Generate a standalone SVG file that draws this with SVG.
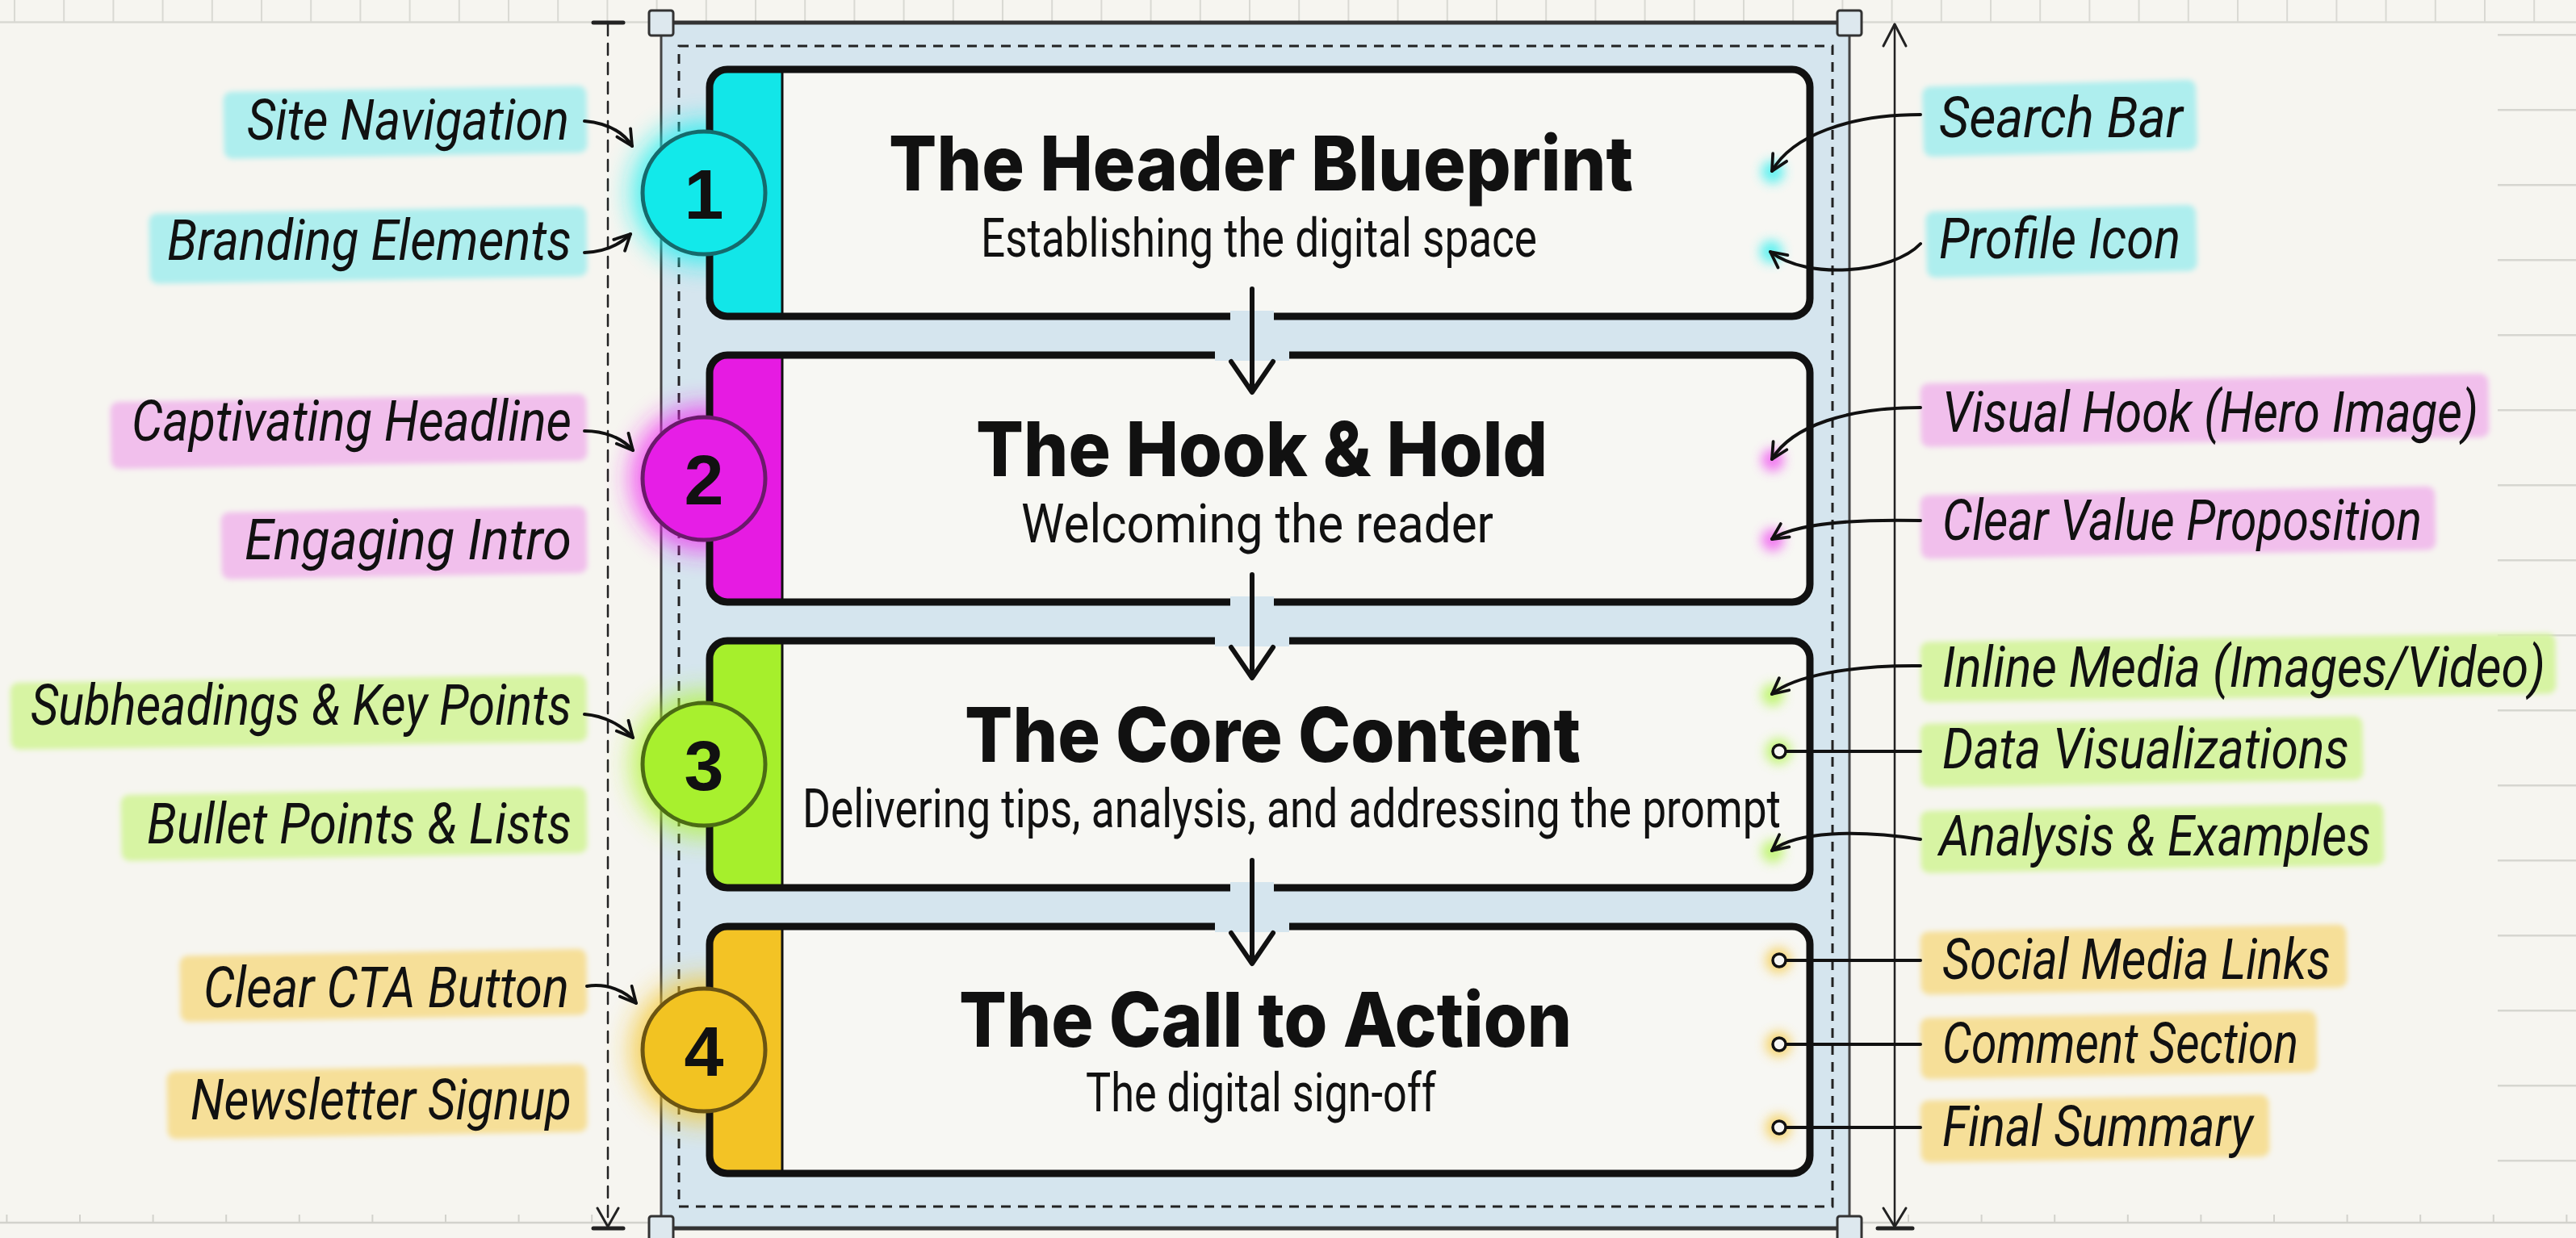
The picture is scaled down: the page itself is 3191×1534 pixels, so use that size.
<svg xmlns="http://www.w3.org/2000/svg" width="3191" height="1534" viewBox="0 0 3191 1534">
<style>
.title{font-family:Inter,"Liberation Sans",sans-serif;font-weight:800;font-size:94px;fill:#111}
.sub{font-family:Roboto,"Liberation Sans",sans-serif;font-weight:400;font-size:66px;fill:#111}
.num{font-family:"Liberation Sans",Arial,sans-serif;font-weight:700;font-size:88px;fill:#111;text-anchor:middle}
.lbl{font-family:"Liberation Sans Narrow",Roboto,"DejaVu Sans",sans-serif;font-style:italic;font-weight:400;font-size:70px;fill:#111}
.card{fill:#f7f7f3}
.border{fill:none;stroke:#111;stroke-width:9}
.sep{stroke:#111;stroke-width:3}
.conn{fill:none;stroke:#111;stroke-width:4;stroke-linecap:round}
.flow{fill:none;stroke:#111;stroke-width:6;stroke-linecap:round;stroke-linejoin:round}
.dot{fill:#f7f7f3;stroke:#111;stroke-width:3.5}
.band{filter:url(#soft)}
.handle{fill:#dde8ee;stroke:#333;stroke-width:3}
.gap{fill:#d5e5ee}
</style>
<defs>
<filter id="soft" x="-5%" y="-30%" width="110%" height="160%"><feGaussianBlur stdDeviation="3"/></filter>
<filter id="glow" x="-60%" y="-60%" width="220%" height="220%"><feGaussianBlur stdDeviation="16"/></filter>
<filter id="glowS" x="-100%" y="-100%" width="300%" height="300%"><feGaussianBlur stdDeviation="7"/></filter>
<marker id="ah" viewBox="0 0 24 24" refX="21" refY="12" markerWidth="26" markerHeight="26" orient="auto" markerUnits="userSpaceOnUse">
<path d="M3,3 L21,12 L3,21" fill="none" stroke="#111" stroke-width="3.5" stroke-linecap="round" stroke-linejoin="round"/>
</marker>
<pattern id="topTicks" x="17" y="0" width="61.2" height="27" patternUnits="userSpaceOnUse"><rect x="0" y="0" width="2" height="27" fill="#d9d9d3"/></pattern>
<pattern id="botTicks" x="98" y="1505" width="90.6" height="10" patternUnits="userSpaceOnUse"><rect x="0" y="0" width="2" height="10" fill="#d2d2cc"/></pattern>
<pattern id="rTicks" x="3094" y="42" width="97" height="93" patternUnits="userSpaceOnUse"><rect x="0" y="0" width="97" height="2.5" fill="#d6d6d0"/></pattern>
<clipPath id="c1"><rect x="879" y="86" width="1363" height="306" rx="22"/></clipPath>
<clipPath id="c2"><rect x="879" y="440" width="1363" height="306" rx="22"/></clipPath>
<clipPath id="c3"><rect x="879" y="794" width="1363" height="306" rx="22"/></clipPath>
<clipPath id="c4"><rect x="879" y="1148" width="1363" height="306" rx="22"/></clipPath>
</defs>

<!-- background & rulers -->
<rect width="3191" height="1534" fill="#f6f5f0"/>
<rect x="0" y="0" width="3191" height="27" fill="url(#topTicks)"/>
<line x1="0" y1="27.5" x2="3191" y2="27.5" stroke="#d9d9d3" stroke-width="2.5"/>
<rect x="3094" y="42" width="97" height="1400" fill="url(#rTicks)"/>
<rect x="0" y="1505" width="3191" height="10" fill="url(#botTicks)"/>
<line x1="0" y1="1515" x2="3191" y2="1515" stroke="#d2d2cc" stroke-width="2.5"/>

<!-- container -->
<g id="container">
<rect x="819" y="28" width="1472" height="1494" fill="#d5e5ee" stroke="#444" stroke-width="3"/>
<line x1="819" y1="28" x2="2291" y2="28" stroke="#333" stroke-width="5"/>
<line x1="819" y1="1522" x2="2291" y2="1522" stroke="#333" stroke-width="5"/>
<rect x="841" y="57" width="1429" height="1438" fill="none" stroke="#222" stroke-width="3" stroke-dasharray="12 9"/>
<rect class="handle" x="804" y="13" width="30" height="31" rx="3"/>
<rect class="handle" x="2276" y="13" width="30" height="31" rx="3"/>
<rect class="handle" x="804" y="1507" width="30" height="31" rx="3"/>
<rect class="handle" x="2276" y="1507" width="30" height="31" rx="3"/>
</g>

<!-- dimension lines -->
<g id="dimensions" fill="none" stroke="#222" stroke-linecap="round" stroke-linejoin="round">
<line x1="753" y1="30" x2="753" y2="1520" stroke-width="2.5" stroke-dasharray="14 10"/>
<line x1="735" y1="28" x2="772" y2="28" stroke-width="5"/>
<path d="M740,1497 L753,1520 L766,1497" stroke-width="3"/>
<line x1="735" y1="1522" x2="772" y2="1522" stroke-width="5"/>
<line x1="2347" y1="30" x2="2347" y2="1520" stroke-width="2.5"/>
<path d="M2333,57 L2347,30 L2361,57" stroke-width="3"/>
<path d="M2333,1497 L2347,1520 L2361,1497" stroke-width="3"/>
<line x1="2326" y1="1522" x2="2369" y2="1522" stroke-width="5"/>
</g>

<!-- glows -->
<g id="glows">
<circle cx="872" cy="239" r="90" fill="#19f0f0" opacity="0.75" filter="url(#glow)"/>
<circle cx="872" cy="593" r="90" fill="#f020f0" opacity="0.75" filter="url(#glow)"/>
<circle cx="872" cy="947" r="90" fill="#aef52a" opacity="0.75" filter="url(#glow)"/>
<circle cx="872" cy="1301" r="90" fill="#f5c420" opacity="0.75" filter="url(#glow)"/>
</g>

<!-- cards -->
<g id="card1">
<rect class="card" x="879" y="86" width="1363" height="306" rx="22"/>
<rect x="870" y="80" width="99" height="320" fill="#12e6e8" clip-path="url(#c1)"/>
<line class="sep" x1="969" y1="86" x2="969" y2="392"/>
<rect class="border" x="879" y="86" width="1363" height="306" rx="22"/>
<text class="title" x="1101" y="236" textLength="922" lengthAdjust="spacingAndGlyphs">The Header Blueprint</text>
<text class="sub" x="1215" y="318" textLength="689" lengthAdjust="spacingAndGlyphs">Establishing the digital space</text>
</g>
<g id="card2">
<rect class="card" x="879" y="440" width="1363" height="306" rx="22"/>
<rect x="870" y="434" width="99" height="320" fill="#e61be2" clip-path="url(#c2)"/>
<line class="sep" x1="969" y1="440" x2="969" y2="746"/>
<rect class="border" x="879" y="440" width="1363" height="306" rx="22"/>
<text class="title" x="1209" y="590" textLength="708" lengthAdjust="spacingAndGlyphs">The Hook &amp; Hold</text>
<text class="sub" x="1265" y="672" textLength="585" lengthAdjust="spacingAndGlyphs">Welcoming the reader</text>
</g>
<g id="card3">
<rect class="card" x="879" y="794" width="1363" height="306" rx="22"/>
<rect x="870" y="788" width="99" height="320" fill="#a6ef2c" clip-path="url(#c3)"/>
<line class="sep" x1="969" y1="794" x2="969" y2="1100"/>
<rect class="border" x="879" y="794" width="1363" height="306" rx="22"/>
<text class="title" x="1195" y="944" textLength="763" lengthAdjust="spacingAndGlyphs">The Core Content</text>
<text class="sub" x="994" y="1025" textLength="1212" lengthAdjust="spacingAndGlyphs">Delivering tips, analysis, and addressing the prompt</text>
</g>
<g id="card4">
<rect class="card" x="879" y="1148" width="1363" height="306" rx="22"/>
<rect x="870" y="1142" width="99" height="320" fill="#f3c325" clip-path="url(#c4)"/>
<line class="sep" x1="969" y1="1148" x2="969" y2="1454"/>
<rect class="border" x="879" y="1148" width="1363" height="306" rx="22"/>
<text class="title" x="1188" y="1297" textLength="759" lengthAdjust="spacingAndGlyphs">The Call to Action</text>
<text class="sub" x="1345" y="1377" textLength="434" lengthAdjust="spacingAndGlyphs">The digital sign-off</text>
</g>

<!-- badges -->
<g id="badge1"><circle cx="872" cy="239" r="76" fill="#12e9ea" stroke="#156a6c" stroke-width="5"/><text class="num" x="872" y="271">1</text></g>
<g id="badge2"><circle cx="872" cy="593" r="76" fill="#e61ee6" stroke="#6a1a6a" stroke-width="5"/><text class="num" x="872" y="625">2</text></g>
<g id="badge3"><circle cx="872" cy="947" r="76" fill="#a8f02e" stroke="#4b6b14" stroke-width="5"/><text class="num" x="872" y="979">3</text></g>
<g id="badge4"><circle cx="872" cy="1301" r="76" fill="#f2c322" stroke="#6b5412" stroke-width="5"/><text class="num" x="872" y="1333">4</text></g>

<!-- label highlight bands -->
<g id="bands">
<g fill="#aeeeee">
<rect class="band" x="277" y="110" width="450" height="83" rx="10" transform="rotate(-1 502 151)"/>
<rect class="band" x="185" y="260" width="542" height="87" rx="10" transform="rotate(-1 456 303)"/>
<rect class="band" x="2382" y="103" width="339" height="87" rx="10" transform="rotate(-1.5 2551 146)"/>
<rect class="band" x="2386" y="258" width="335" height="82" rx="10" transform="rotate(-1.5 2553 299)"/>
</g>
<g fill="#f1bfec">
<rect class="band" x="137" y="493" width="590" height="83" rx="10" transform="rotate(-1 432 534)"/>
<rect class="band" x="274" y="631" width="453" height="83" rx="10" transform="rotate(-1 500 672)"/>
<rect class="band" x="2379" y="469" width="704" height="79" rx="10" transform="rotate(-1 2731 508)"/>
<rect class="band" x="2379" y="608" width="638" height="79" rx="10" transform="rotate(-1 2698 647)"/>
</g>
<g fill="#d7f4a3">
<rect class="band" x="13" y="841" width="714" height="83" rx="10" transform="rotate(-0.8 370 882)"/>
<rect class="band" x="150" y="980" width="577" height="82" rx="10" transform="rotate(-1 438 1021)"/>
<rect class="band" x="2379" y="790" width="787" height="75" rx="10" transform="rotate(-0.8 2772 827)"/>
<rect class="band" x="2379" y="892" width="548" height="79" rx="10" transform="rotate(-1 2653 931)"/>
<rect class="band" x="2379" y="1000" width="574" height="77" rx="10" transform="rotate(-1 2666 1038)"/>
</g>
<g fill="#f6df98">
<rect class="band" x="223" y="1180" width="504" height="82" rx="10" transform="rotate(-1 475 1221)"/>
<rect class="band" x="207" y="1323" width="520" height="84" rx="10" transform="rotate(-1 467 1365)"/>
<rect class="band" x="2379" y="1150" width="528" height="78" rx="10" transform="rotate(-1 2643 1189)"/>
<rect class="band" x="2379" y="1257" width="491" height="76" rx="10" transform="rotate(-1 2624 1295)"/>
<rect class="band" x="2379" y="1360" width="432" height="77" rx="10" transform="rotate(-1 2595 1398)"/>
</g>
</g>

<!-- tip glows -->
<g id="tipglows" filter="url(#glowS)" opacity="0.8">
<circle cx="2196" cy="213" r="14" fill="#3df0f0"/>
<circle cx="2194" cy="312" r="14" fill="#3df0f0"/>
<circle cx="2196" cy="570" r="14" fill="#f05cf0"/>
<circle cx="2196" cy="669" r="14" fill="#f05cf0"/>
<circle cx="2196" cy="861" r="14" fill="#b6f55a"/>
<circle cx="2203" cy="931" r="16" fill="#b6f55a"/>
<circle cx="2196" cy="1055" r="14" fill="#b6f55a"/>
<circle cx="2203" cy="1190" r="16" fill="#f5cc50"/>
<circle cx="2203" cy="1294" r="16" fill="#f5cc50"/>
<circle cx="2203" cy="1397" r="16" fill="#f5cc50"/>
</g>

<!-- connectors -->
<g id="connectors">
<rect class="gap" x="1524" y="385" width="54" height="14"/>
<rect class="gap" x="1505" y="433" width="92" height="14"/>
<rect class="gap" x="1524" y="739" width="54" height="14"/>
<rect class="gap" x="1505" y="787" width="92" height="14"/>
<rect class="gap" x="1524" y="1093" width="54" height="14"/>
<rect class="gap" x="1505" y="1141" width="92" height="14"/>
<path class="flow" d="M1551,358 V484 M1525,448 L1551,486 L1577,448"/>
<path class="flow" d="M1551,712 V838 M1525,802 L1551,840 L1577,802"/>
<path class="flow" d="M1551,1066 V1192 M1525,1156 L1551,1194 L1577,1156"/>

<path class="conn" marker-end="url(#ah)" d="M724,150 C746,152 770,160 783,181"/>
<path class="conn" marker-end="url(#ah)" d="M724,313 C745,312 766,305 781,290"/>
<path class="conn" marker-end="url(#ah)" d="M724,534 C748,534 770,542 784,558"/>
<path class="conn" marker-end="url(#ah)" d="M724,885 C748,887 770,898 784,914"/>
<path class="conn" marker-end="url(#ah)" d="M727,1222 C752,1218 775,1228 788,1243"/>

<path class="conn" marker-end="url(#ah)" d="M2379,142 C2290,142 2220,168 2195,212"/>
<path class="conn" marker-end="url(#ah)" d="M2379,302 C2345,338 2240,348 2193,312"/>
<path class="conn" marker-end="url(#ah)" d="M2379,505 C2290,505 2220,527 2195,569"/>
<path class="conn" marker-end="url(#ah)" d="M2379,645 C2290,643 2222,650 2195,668"/>
<path class="conn" marker-end="url(#ah)" d="M2379,825 C2290,824 2222,838 2195,860"/>
<path class="conn" marker-end="url(#ah)" d="M2379,1040 C2300,1028 2225,1030 2195,1054"/>

<path class="conn" d="M2379,931 H2212"/>
<circle class="dot" cx="2204" cy="931" r="8"/>
<path class="conn" d="M2379,1190 H2212"/>
<circle class="dot" cx="2204" cy="1190" r="8"/>
<path class="conn" d="M2379,1294 H2212"/>
<circle class="dot" cx="2204" cy="1294" r="8"/>
<path class="conn" d="M2379,1397 H2212"/>
<circle class="dot" cx="2204" cy="1397" r="8"/>
</g>

<!-- labels -->
<g id="labels-left">
<text class="lbl" x="306" y="173" textLength="399" lengthAdjust="spacingAndGlyphs">Site Navigation</text>
<text class="lbl" x="207" y="322" textLength="501" lengthAdjust="spacingAndGlyphs">Branding Elements</text>
<text class="lbl" x="163" y="546" textLength="545" lengthAdjust="spacingAndGlyphs">Captivating Headline</text>
<text class="lbl" x="303" y="693" textLength="405" lengthAdjust="spacingAndGlyphs">Engaging Intro</text>
<text class="lbl" x="38" y="898" textLength="670" lengthAdjust="spacingAndGlyphs">Subheadings &amp; Key Points</text>
<text class="lbl" x="182" y="1045" textLength="526" lengthAdjust="spacingAndGlyphs">Bullet Points &amp; Lists</text>
<text class="lbl" x="252" y="1248" textLength="453" lengthAdjust="spacingAndGlyphs">Clear CTA Button</text>
<text class="lbl" x="236" y="1387" textLength="472" lengthAdjust="spacingAndGlyphs">Newsletter Signup</text>
</g>
<g id="labels-right">
<text class="lbl" x="2402" y="170" textLength="302" lengthAdjust="spacingAndGlyphs">Search Bar</text>
<text class="lbl" x="2402" y="320" textLength="299" lengthAdjust="spacingAndGlyphs">Profile Icon</text>
<text class="lbl" x="2406" y="535" textLength="664" lengthAdjust="spacingAndGlyphs">Visual Hook (Hero Image)</text>
<text class="lbl" x="2406" y="669" textLength="594" lengthAdjust="spacingAndGlyphs">Clear Value Proposition</text>
<text class="lbl" x="2406" y="851" textLength="747" lengthAdjust="spacingAndGlyphs">Inline Media (Images/Video)</text>
<text class="lbl" x="2406" y="952" textLength="504" lengthAdjust="spacingAndGlyphs">Data Visualizations</text>
<text class="lbl" x="2402" y="1060" textLength="535" lengthAdjust="spacingAndGlyphs">Analysis &amp; Examples</text>
<text class="lbl" x="2406" y="1213" textLength="481" lengthAdjust="spacingAndGlyphs">Social Media Links</text>
<text class="lbl" x="2406" y="1317" textLength="441" lengthAdjust="spacingAndGlyphs">Comment Section</text>
<text class="lbl" x="2406" y="1420" textLength="385" lengthAdjust="spacingAndGlyphs">Final Summary</text>
</g>
</svg>
